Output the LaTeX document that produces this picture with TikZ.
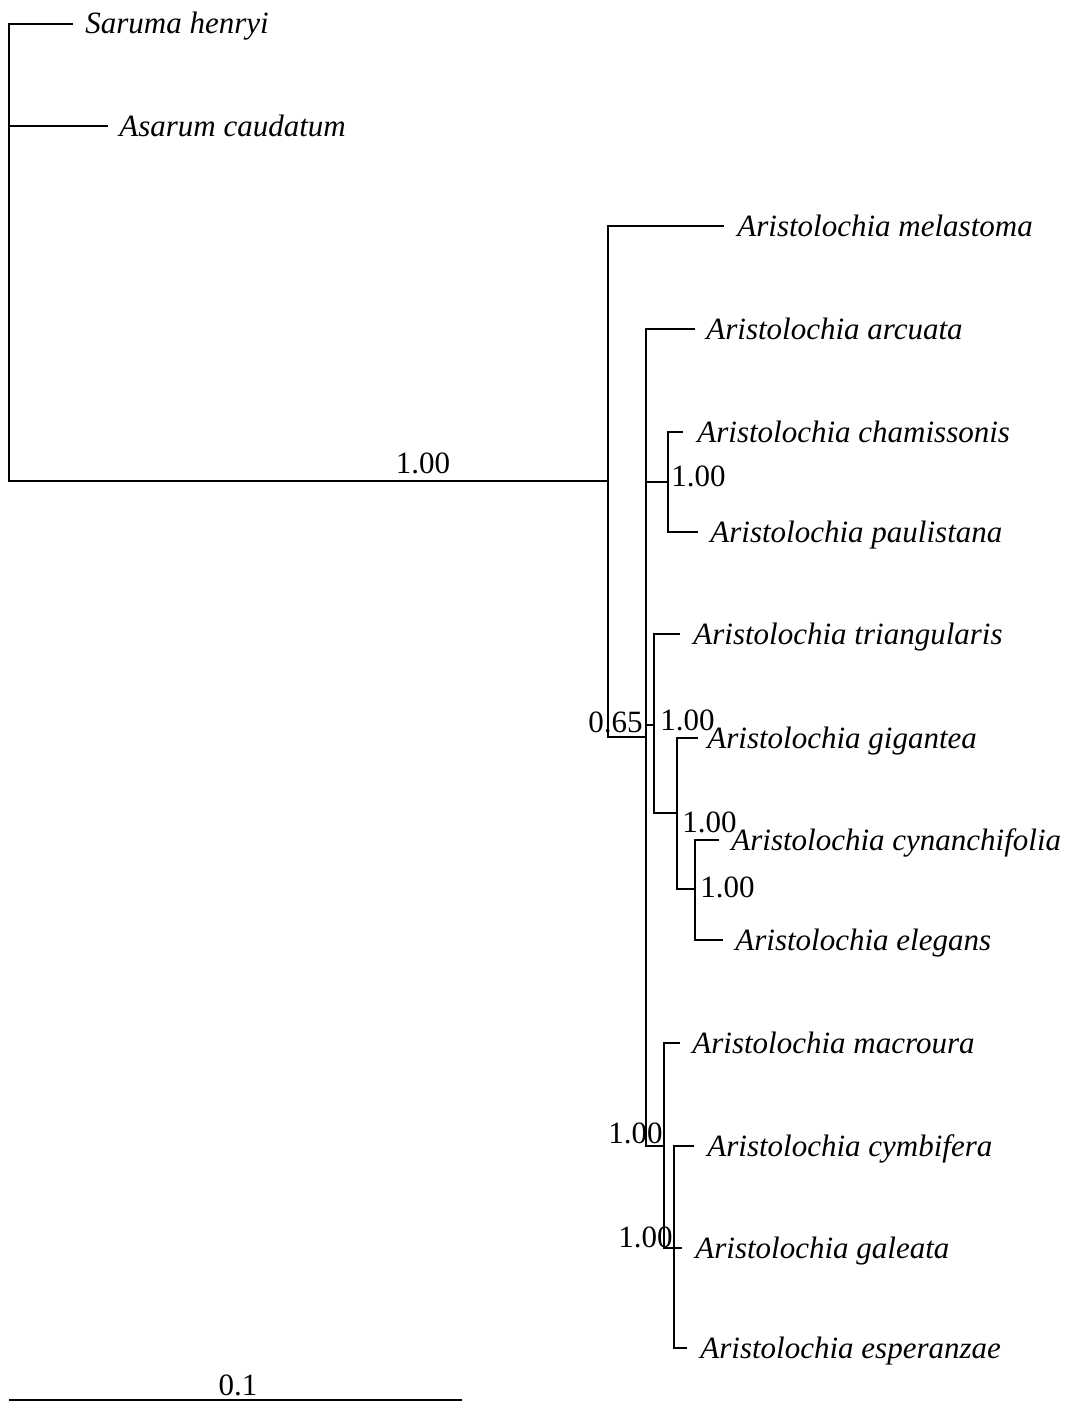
\documentclass[tikz,border=0pt]{standalone}
\usepackage{fontspec}
\setmainfont{Liberation Serif}
\begin{document}
\begin{tikzpicture}[x=0.5pt,y=-0.5pt,
  br/.style={line width=1.3pt, line cap=rect},
  taxon/.style={anchor=base west, inner sep=0pt, font=\fontsize{15.5}{18}\selectfont\itshape},
  supw/.style={anchor=base west, inner sep=0pt, font=\fontsize{15.5}{18}\selectfont},
  supe/.style={anchor=base east, inner sep=0pt, font=\fontsize{15.5}{18}\selectfont},
  supc/.style={anchor=base, inner sep=0pt, font=\fontsize{15.5}{18}\selectfont}]
\useasboundingbox (0,0) rectangle (1070,1402);
% internal nodes
\coordinate (R) at (9,481);
\coordinate (A) at (608,481);
\coordinate (B) at (646,737);
\coordinate (C) at (668,482);
\coordinate (D) at (654,725);
\coordinate (E) at (677,813);
\coordinate (F) at (695,889);
\coordinate (G) at (664,1146);
\coordinate (H) at (674,1248);
% tips
\coordinate (t1) at (72,24);
\coordinate (t2) at (107,126);
\coordinate (t3) at (723,226);
\coordinate (t4) at (694,329);
\coordinate (t5) at (682,432);
\coordinate (t6) at (697,532);
\coordinate (t7) at (679,634);
\coordinate (t8) at (697,738);
\coordinate (t9) at (718,840);
\coordinate (t10) at (722,940);
\coordinate (t11) at (679,1043);
\coordinate (t12) at (693,1146);
\coordinate (t13) at (681,1248);
\coordinate (t14) at (686,1348);
% verticals
\draw[br] (R |- t1) -- (R);
\draw[br] (A |- t3) -- (A |- B);
\draw[br] (B |- t4) -- (B |- G);
\draw[br] (C |- t5) -- (C |- t6);
\draw[br] (D |- t7) -- (D |- E);
\draw[br] (E |- t8) -- (E |- F);
\draw[br] (F |- t9) -- (F |- t10);
\draw[br] (G |- t11) -- (G |- H);
\draw[br] (H |- t12) -- (H |- t14);
% horizontals
\draw[br] (R |- t1) -- (t1);
\draw[br] (R |- t2) -- (t2);
\draw[br] (R) -- (A);
\draw[br] (A |- t3) -- (t3);
\draw[br] (A |- B) -- (B);
\draw[br] (B |- t4) -- (t4);
\draw[br] (B |- C) -- (C);
\draw[br] (C |- t5) -- (t5);
\draw[br] (C |- t6) -- (t6);
\draw[br] (B |- D) -- (D);
\draw[br] (D |- t7) -- (t7);
\draw[br] (D |- E) -- (E);
\draw[br] (E |- t8) -- (t8);
\draw[br] (E |- F) -- (F);
\draw[br] (F |- t9) -- (t9);
\draw[br] (F |- t10) -- (t10);
\draw[br] (B |- G) -- (G);
\draw[br] (G |- t11) -- (t11);
\draw[br] (G |- H) -- (H);
\draw[br] (H |- t12) -- (t12);
\draw[br] (H |- t13) -- (t13);
\draw[br] (H |- t14) -- (t14);
% taxon labels
\node[taxon] (l1) at (85,34) {Saruma henryi};
\node[taxon] (l2) at (119,136) {Asarum caudatum};
\node[taxon] (l3) at (737,236) {Aristolochia melastoma};
\node[taxon] (l4) at (706,339) {Aristolochia arcuata};
\node[taxon] (l5) at (697,442) {Aristolochia chamissonis};
\node[taxon] (l6) at (710,542) {Aristolochia paulistana};
\node[taxon] (l7) at (693,644) {Aristolochia triangularis};
\node[taxon] (l8) at (707,748) {Aristolochia gigantea};
\node[taxon] (l9) at (731,850) {Aristolochia cynanchifolia};
\node[taxon] (l10) at (735,950) {Aristolochia elegans};
\node[taxon] (l11) at (692,1053) {Aristolochia macroura};
\node[taxon] (l12) at (707,1156) {Aristolochia cymbifera};
\node[taxon] (l13) at (695,1258) {Aristolochia galeata};
\node[taxon] (l14) at (700,1358) {Aristolochia esperanzae};
% support values
\node[supc] (sA) at (423,473) {1.00};
\node[supe] (sB) at (643,732) {0.65};
\node[supw] (sC) at (671,486) {1.00};
\node[supw] (sD) at (660,730) {1.00};
\node[supw] (sE) at (682,832) {1.00};
\node[supw] (sF) at (700,897) {1.00};
\node[supe] (sG) at (663,1143) {1.00};
\node[supe] (sH) at (673,1247) {1.00};
% scale bar
\coordinate (s0) at (9,1400);
\coordinate (s1) at (462,1400);
\draw[br, line cap=butt] (s0) -- (s1);
\node[supc] (sl) at (238,1395) {0.1};
\end{tikzpicture}
\end{document}
